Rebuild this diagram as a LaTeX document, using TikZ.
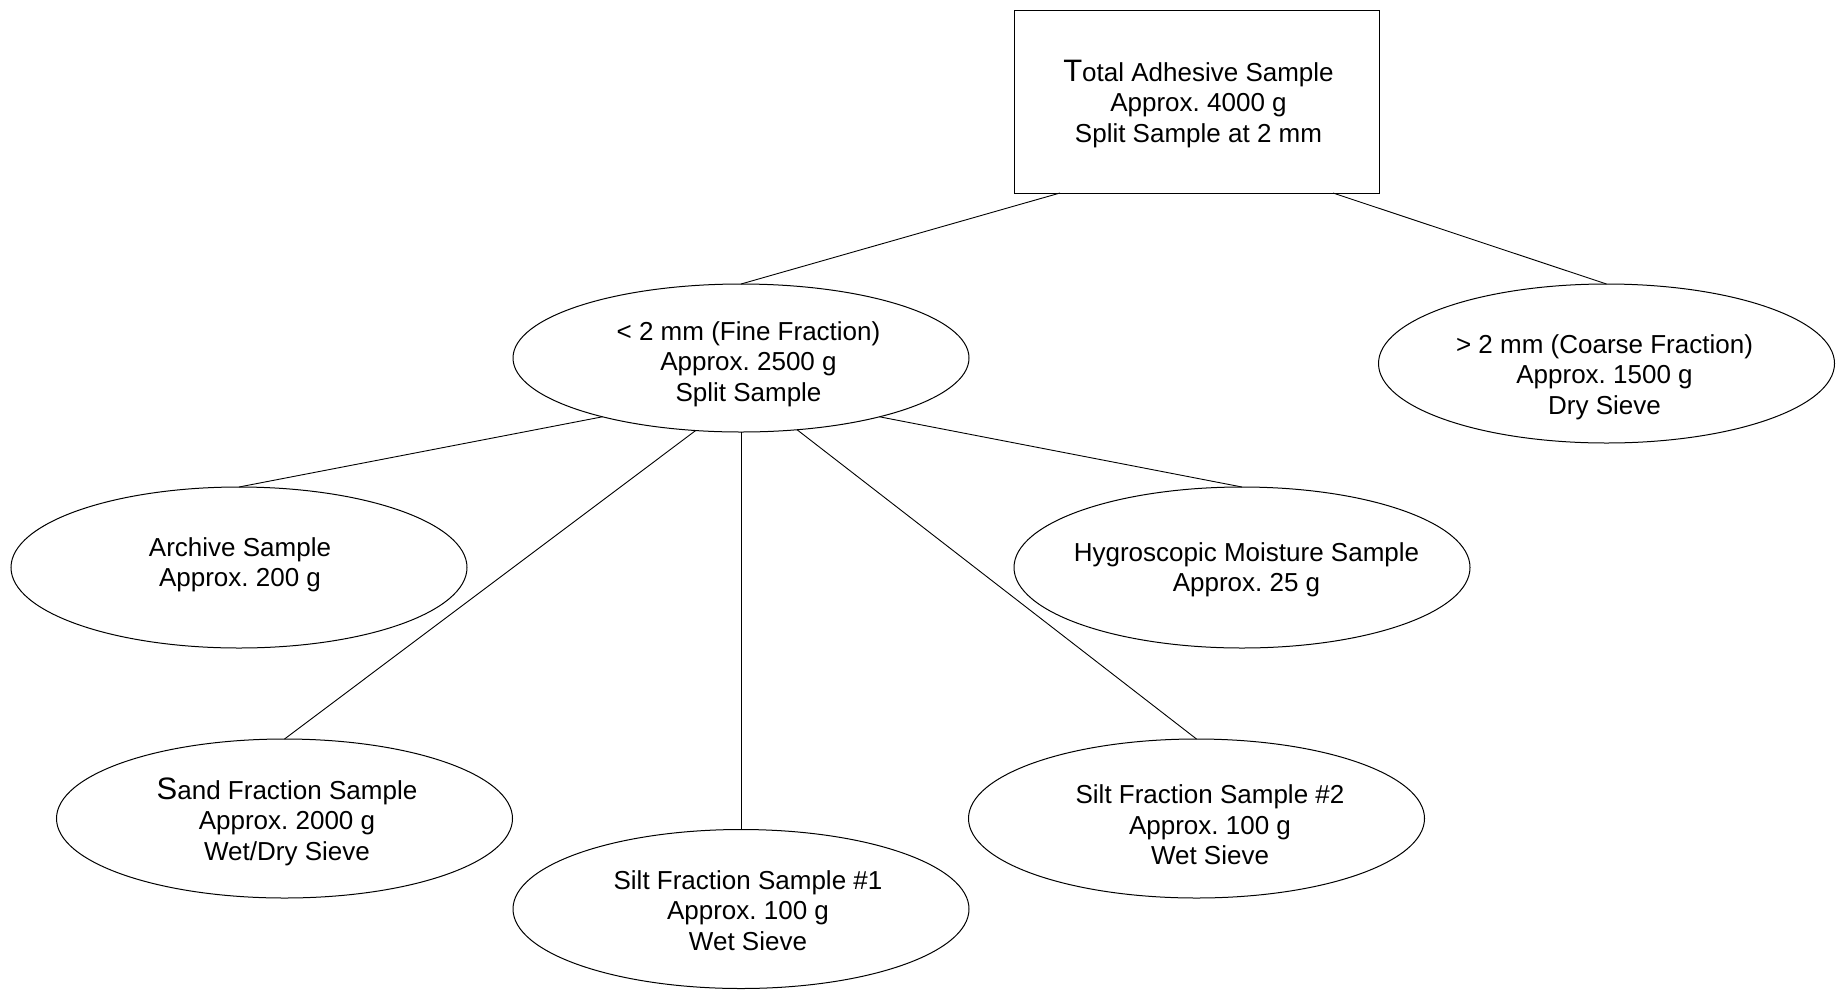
\documentclass[tikz,border=0pt]{standalone}
\usepackage{fontspec}
\setmainfont{Liberation Sans}
\usetikzlibrary{shapes.geometric}
\frenchspacing

\newcommand{\bigfirst}[1]{{\fontsize{31}{30.5}\selectfont #1}}

\begin{document}
\begin{tikzpicture}[x=1pt, y=-1pt,
    sample/.style={ellipse, draw, line width=1pt, inner sep=0pt, outer sep=0pt,
                   minimum width=456pt, minimum height=159pt},
    lbl/.style={align=center, inner sep=0pt, font=\fontsize{26}{30.5}\selectfont},
    link/.style={line width=0.9pt}]

  %% Page frame
  \useasboundingbox (0,0) rectangle (1839,989);

  %% Whole sample
  \node[draw, line width=1pt, outer sep=0pt,
        minimum width=365pt, minimum height=183pt] (total) at (1196.5,101.5) {};
  \node[lbl] (total-t) at (1198.5,104)
    {\bigfirst{T}otal Adhesive Sample\\Approx. 4000 g\\Split Sample at 2 mm};

  %% First split
  \node[sample, minimum height=148pt] (fine) at (741,358) {};
  \node[lbl] (fine-t) at (748.5,364)
    {< 2 mm (Fine Fraction)\\Approx. 2500 g\\Split Sample};

  \node[sample] (coarse) at (1606.5,363.5) {};
  \node[lbl] (coarse-t) at (1604.5,377)
    {> 2 mm (Coarse Fraction)\\Approx. 1500 g\\Dry Sieve};

  %% Fine fraction subsamples
  \node[sample, minimum height=161pt] (archive) at (239,567.5) {};
  \node[lbl] (archive-t) at (240,565)
    {Archive Sample\\Approx. 200 g};

  \node[sample, minimum height=161pt] (hygro) at (1242,567.5) {};
  \node[lbl] (hygro-t) at (1246.5,570)
    {Hygroscopic Moisture Sample\\Approx. 25 g};

  \node[sample] (sand) at (284.5,818.5) {};
  \node[lbl] (sand-t) at (287,821.7)
    {\bigfirst{S}and Fraction Sample\\Approx. 2000 g\\Wet/Dry Sieve};

  \node[sample] (silt1) at (741,909) {};
  \node[lbl] (silt1-t) at (748,910.5)
    {Silt Fraction Sample \#1\\Approx. 100 g\\Wet Sieve};

  \node[sample] (silt2) at (1196.5,818.5) {};
  \node[lbl] (silt2-t) at (1210,825)
    {Silt Fraction Sample \#2\\Approx. 100 g\\Wet Sieve};

  %% Connectors
  \draw[link] ([xshift=-136.5pt]total.south) -- (fine.north);
  \draw[link] ([xshift=136.5pt]total.south) -- (coarse.north);

  \draw[link] (fine.203) -- (archive.north);
  \draw[link] (fine.238) -- (sand.north);
  \draw[link] (fine.south) -- (silt1.north);
  \draw[link] (fine.308) -- (silt2.north);
  \draw[link] (fine.337) -- (hygro.north);

\end{tikzpicture}
\end{document}
